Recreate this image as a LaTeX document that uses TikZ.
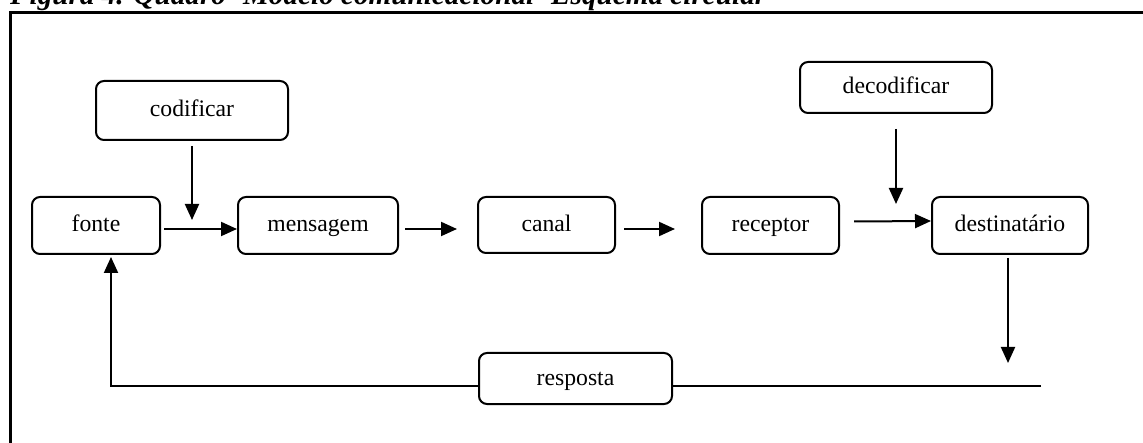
\documentclass[tikz,border=0pt]{standalone}
\usepackage{fontspec}
\setmainfont{Liberation Serif}
\usetikzlibrary{arrows.meta}
\tikzset{
  box/.style={draw, line width=2pt, rounded corners=8pt, inner sep=0pt,
    font=\fontsize{23.7}{28}\selectfont, text height=15pt, text depth=2pt},
  arr/.style={line width=2pt, -{Triangle[length=16pt,width=14pt]}},
  ln/.style={line width=2pt},
}
\begin{document}
\begin{tikzpicture}[x=1pt,y=-1pt]
\useasboundingbox (0,0) rectangle (1143,443);
% title (cut at top)
\node[anchor=base west, inner sep=0pt, font=\fontsize{29.2}{34}\selectfont\bfseries\itshape] (title) at (10,5) {Figura 4. Quadro- Modelo comunicacional- Esquema circular};
% frame
\draw[line width=3pt] (10,460) -- (10,12.5) -- (1160,12.5);
% boxes
\node[box, minimum width=192pt, minimum height=59pt] (cod) at (192,110.5) {codificar};
\node[box, minimum width=192pt, minimum height=51pt] (dec) at (896,87.5) {decodificar};
\node[box, minimum width=128pt, minimum height=57pt] (fonte) at (96,225.5) {fonte};
\node[box, minimum width=160pt, minimum height=57pt] (msg) at (318,225.5) {mensagem};
\node[box, minimum width=137pt, minimum height=56pt] (canal) at (546.5,225) {canal};
\node[box, minimum width=137pt, minimum height=57pt] (rec) at (770.5,225.5) {receptor};
\node[box, minimum width=156pt, minimum height=57pt] (dest) at (1010,225.5) {destinatário};
\node[box, minimum width=193pt, minimum height=51pt] (resp) at (575.5,378.5) {resposta};
% helper coordinates
\coordinate (codend) at (192,220);
\coordinate (decend) at (896,204);
\coordinate (destend) at (1008,363);
\coordinate (rightend) at (1041,386);
\coordinate (leftcorner) at (111,386);
% connectors
\draw[arr] ([shift={(3,3.5)}]fonte.east) -- ([shift={(0,3.5)}]msg.west);
\draw[arr] ([shift={(6,3.5)}]msg.east) -- ([shift={(-20,4)}]canal.west);
\draw[arr] ([shift={(8,4)}]canal.east) -- ([shift={(-26,3.5)}]rec.west);
\draw[arr] ([shift={(14,-4)}]rec.east) -- ([shift={(0,-4.5)}]dest.west);
\draw[arr] ([shift={(0,5)}]cod.south) -- (codend);
\draw[arr] ([shift={(0,15)}]dec.south) -- (decend);
\draw[arr] ([shift={(-2,3)}]dest.south) -- (destend);
\draw[ln] (rightend) -- (rightend -| resp.east);
\draw[arr] (leftcorner -| resp.west) -- (leftcorner) -- ([shift={(15,2)}]fonte.south);
\end{tikzpicture}
\end{document}
